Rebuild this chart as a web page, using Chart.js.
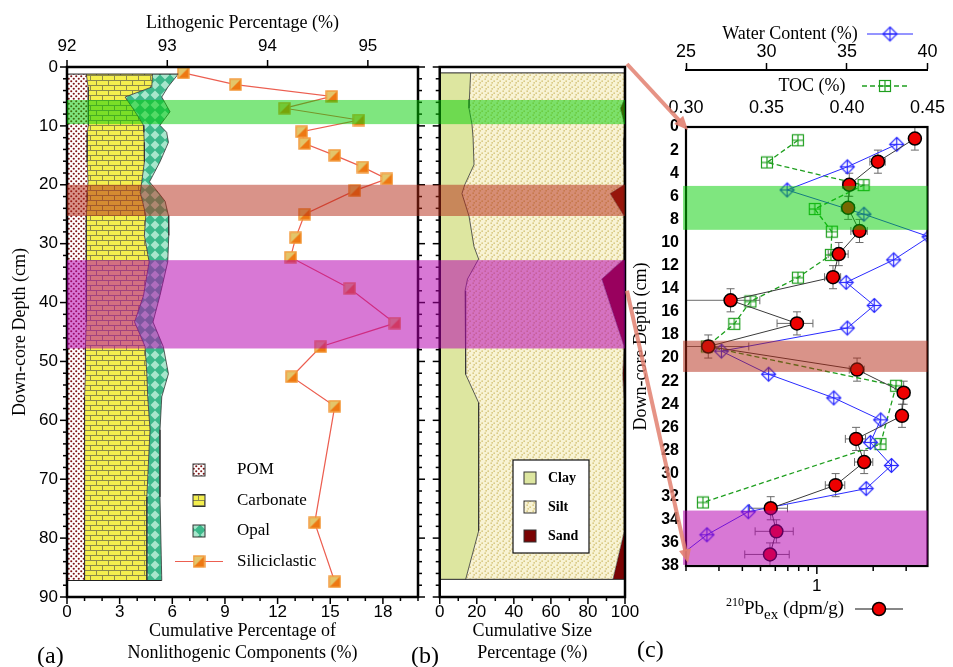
<!DOCTYPE html>
<html>
<head>
<meta charset="utf-8">
<script src="https://cdn.jsdelivr.net/npm/chart.js@4.4.1/dist/chart.umd.min.js"></script>
<style>
  body { margin: 0; background: #fff; width: 953px; height: 667px; overflow: hidden; position: relative; }
  canvas { position: absolute; top: 0; }
  .lab { position: absolute; font: 24px 'Liberation Serif', serif; line-height: 1; }
</style>
</head>
<body>
<canvas id="ca" width="430" height="667" style="left:0"></canvas>
<canvas id="cb" width="215" height="667" style="left:430px"></canvas>
<canvas id="cc" width="323" height="667" style="left:630px"></canvas>
<canvas id="ov" width="953" height="667" style="left:0;pointer-events:none"></canvas>
<div class="lab" style="left:37px;top:643px">(a)</div>
<div class="lab" style="left:411px;top:643px">(b)</div>
<div class="lab" style="left:637px;top:637px">(c)</div>
<script>
// (a) nonlithogenic components, % of sediment
var compDepth = [1.2, 3.4, 5.1, 7.6, 9.9, 11.1, 12.8, 16.1, 19.5, 21.3, 22.8, 25.2, 28.6, 33.1, 38.8, 43.3, 47.5, 52.1, 56.0, 61.6, 73.0, 87.2];
var pom       = [1.10, 1.20, 1.25, 1.20, 1.20, 1.15, 1.15, 1.15, 1.20, 1.15, 1.15, 1.10, 1.10, 1.10, 1.10, 1.10, 1.05, 1.05, 1.00, 1.00, 1.00, 1.00];
var carbonate = [3.77, 3.63, 2.06, 2.68, 3.16, 3.23, 3.25, 3.26, 3.06, 3.02, 3.15, 3.39, 3.31, 3.58, 3.26, 2.75, 3.40, 3.50, 3.60, 3.73, 3.55, 3.55];
var opal      = [1.47, 0.92, 2.09, 1.99, 0.94, 1.30, 1.38, 0.89, 0.44, 1.03, 1.29, 1.29, 1.39, 1.06, 0.94, 1.05, 1.04, 1.23, 0.80, 0.57, 0.75, 0.85];
// (a) lithogenic (siliciclastic) percentage
var siliDepth     = [1, 3, 5, 7, 9, 11, 13, 15, 17, 19, 21, 25, 29, 32.3, 37.6, 43.5, 47.5, 52.6, 57.6, 77.4, 87.4];
var siliciclastic = [93.16, 93.68, 94.64, 94.17, 94.91, 94.34, 94.37, 94.67, 94.95, 95.19, 94.87, 94.37, 94.28, 94.23, 94.82, 95.27, 94.53, 94.24, 94.67, 94.47, 94.67];
// (b) grain size
var gsDepth = [1, 5.5, 7, 9.7, 12, 16.6, 20, 21.5, 25.3, 30.5, 32.6, 36, 38, 47.4, 52.2, 57, 65, 72, 78.8, 87];
var clay    = [16.7, 16.0, 15.8, 17.4, 18.0, 18.5, 13.5, 12.0, 15.8, 18.5, 21.0, 15.0, 13.7, 14.0, 14.0, 21.0, 21.0, 21.0, 21.0, 14.0];
var sand    = [0.3, 0.3, 2.5, 0.3, 0.6, 0.6, 0.5, 8.0, 0.5, 0.5, 0.5, 12.5, 10.4, 0.5, 1.2, 0.5, 0.3, 0.3, 0.5, 6.5];
// (c) 210Pb excess, water content, TOC
var pbDepth = [1, 3, 5, 7, 9, 11, 13, 15, 17, 19, 21, 23, 25, 27, 29, 31, 33, 35, 37];
var pb      = [3.34, 2.12, 1.49, 1.47, 1.69, 1.31, 1.22, 0.346, 0.783, 0.263, 1.64, 2.91, 2.85, 1.62, 1.79, 1.26, 0.567, 0.608, 0.562];
var pbErr   = [0.12, 0.20, 0.12, 0.12, 0.17, 0.16, 0.12, 0.15, 0.17, 0.17, 0.15, 0.12, 0.12, 0.20, 0.20, 0.15, 0.13, 0.14, 0.15];
var pbDepthErr = 1;
var waterDepth = [1.5, 3.45, 5.45, 7.55, 9.5, 11.5, 13.45, 15.45, 17.4, 19.4, 21.4, 23.45, 25.35, 27.3, 29.3, 31.3, 33.3, 35.3, 37.3];
var water      = [38.09, 35.02, 31.28, 36.05, 40.1, 37.9, 34.95, 36.69, 35.02, 27.2, 30.13, 34.18, 37.09, 36.45, 37.76, 36.19, 28.87, 26.3, 24.45];
var tocDepth = [1.15, 3.07, 5.03, 7.1, 9.06, 11.07, 13.04, 15.1, 17.04, 19.0, 22.4, 27.45, 32.5];
var toc      = [0.3695, 0.3503, 0.4103, 0.380, 0.3906, 0.390, 0.3695, 0.340, 0.330, 0.313, 0.4305, 0.4208, 0.3105];
// highlighted layers (cm) and the depths tied by the arrows
var bandsAB = [[5.6, 9.7], [20.0, 25.3], [32.8, 47.8]];
var bandsC  = [[5.1, 8.9], [18.5, 21.2], [33.2, 37.9]];
var bandColors = ['rgba(0,205,0,0.5)', 'rgba(180,40,20,0.5)', 'rgba(182,0,176,0.53)'];
var arrowDepths = [[0, 0], [38, 38]];
// tick labels
var depthTicksA = [0, 10, 20, 30, 40, 50, 60, 70, 80, 90];
var depthTicksC = [0, 2, 4, 6, 8, 10, 12, 14, 16, 18, 20, 22, 24, 26, 28, 30, 32, 34, 36, 38];
var nonLithoTicks = [0, 3, 6, 9, 12, 15, 18];
var lithoTicks = [92, 93, 94, 95];
var sizeTicks = [0, 20, 40, 60, 80, 100];
var tocTicks = [0.30, 0.35, 0.40, 0.45];
var waterTicks = [25, 30, 35, 40];
var pbTicks = [1];
var pbMinorTicks = [0.2, 0.3, 0.4, 0.5, 0.6, 0.7, 0.8, 0.9, 1, 2, 3];

var narrow = "'Liberation Sans Narrow', 'Liberation Sans', sans-serif";
var serif = "'Liberation Serif', serif";
Chart.defaults.color = '#000';
Chart.defaults.font.family = serif;

var carbCum = pom.map(function (v, i) { return v + carbonate[i]; });
var opalCum = carbCum.map(function (v, i) { return v + opal[i]; });
var siltEdge = sand.map(function (v) { return 100 - v; });

function pts(xs, ys) { return xs.map(function (x, i) { return {x: x, y: ys[i]}; }); }
function tickList(arr) { return function (s) { s.ticks = arr.map(function (v) { return {value: v}; }); }; }
function fixW(w) { return function (s) { s.width = w; }; }
function fixH(h) { return function (s) { s.height = h; }; }
function seg(ctx, x0, y0, x1, y1) { ctx.beginPath(); ctx.moveTo(x0, y0); ctx.lineTo(x1, y1); ctx.stroke(); }
function tile(w, h, draw) {
  var c = document.createElement('canvas'); c.width = w; c.height = h;
  draw(c.getContext('2d'));
  return c;
}
function pattern(c) { return document.createElement('canvas').getContext('2d').createPattern(c, 'repeat'); }

var pomPattern = pattern(tile(5, 5, function (g) {
  g.fillStyle = '#fff'; g.fillRect(0, 0, 5, 5);
  g.fillStyle = '#7e1515';
  g.beginPath(); g.arc(1.25, 1.25, 1.05, 0, 7); g.fill();
  g.beginPath(); g.arc(3.75, 3.75, 1.05, 0, 7); g.fill();
}));
var carbPattern = pattern(tile(12, 10, function (g) {
  g.fillStyle = '#f4ef4e'; g.fillRect(0, 0, 12, 10);
  g.strokeStyle = '#8c8a4a'; g.lineWidth = 1;
  seg(g, 0, 0.5, 12, 0.5); seg(g, 0, 5.5, 12, 5.5);
  seg(g, 0.5, 0, 0.5, 5); seg(g, 6.5, 5, 6.5, 10);
}));
var opalPattern = pattern(tile(10, 10, function (g) {
  g.fillStyle = '#3cb88a'; g.fillRect(0, 0, 10, 10);
  g.fillStyle = '#a8e6cc';
  g.beginPath(); g.moveTo(5, 0.5); g.lineTo(9.5, 5); g.lineTo(5, 9.5); g.lineTo(0.5, 5); g.closePath(); g.fill();
}));
var siltPattern = pattern(tile(6, 6, function (g) {
  g.fillStyle = '#f8f3d4'; g.fillRect(0, 0, 6, 6);
  g.fillStyle = '#c9b45c';
  g.fillRect(0.5, 0.5, 1.3, 1.3); g.fillRect(3.5, 2.5, 1.3, 1.3); g.fillRect(1.5, 4.2, 1.3, 1.3);
}));
var clayColor = '#dde6a0';
var sandColor = '#7a0303';
var siliColor = '#ec5e50';
var waterColor = '#2a2aff';
var tocColor = '#1f9f1f';

var siliMarker = tile(13, 13, function (g) {
  g.fillStyle = '#e3c56a'; g.fillRect(1, 1, 11, 11);
  g.fillStyle = '#ee7812';
  g.beginPath(); g.moveTo(12, 1); g.lineTo(12, 12); g.lineTo(1, 12); g.closePath(); g.fill();
  g.strokeStyle = '#f39a3c'; g.lineWidth = 1.4; g.strokeRect(1, 1, 11, 11);
});
var waterMarker = tile(17, 17, function (g) {
  g.strokeStyle = waterColor; g.lineWidth = 1.2;
  g.beginPath(); g.moveTo(8.5, 1.5); g.lineTo(15.5, 8.5); g.lineTo(8.5, 15.5); g.lineTo(1.5, 8.5); g.closePath(); g.stroke();
  seg(g, 8.5, 1.5, 8.5, 15.5); seg(g, 1.5, 8.5, 15.5, 8.5);
});
var tocMarker = tile(14, 14, function (g) {
  g.strokeStyle = tocColor; g.lineWidth = 1.2;
  g.strokeRect(1.5, 1.5, 11, 11);
  seg(g, 7, 1.5, 7, 12.5); seg(g, 1.5, 7, 12.5, 7);
});

function drawBands(chart, bands, x0, x1) {
  var ctx = chart.ctx, y = chart.scales.y;
  ctx.save();
  bands.forEach(function (b, i) {
    var t = y.getPixelForValue(b[0]), btm = y.getPixelForValue(b[1]);
    ctx.fillStyle = bandColors[i];
    ctx.fillRect(x0, t, x1 - x0, btm - t);
  });
  ctx.restore();
}

var panelA = {
  id: 'panelA',
  afterDatasetsDraw: function (chart) {
    var ctx = chart.ctx, a = chart.chartArea, s = chart.scales;
    ctx.save();
    ctx.strokeStyle = '#222'; ctx.lineWidth = 1;
    [0, compDepth.length - 1].forEach(function (i) {
      var y = s.y.getPixelForValue(compDepth[i]);
      seg(ctx, s.x.getPixelForValue(0), y, s.x.getPixelForValue(opalCum[i]), y);
    });
    ctx.strokeStyle = '#000'; ctx.lineWidth = 1.5;
    for (var d = 0; d <= 90; d += 2) {
      var y = s.y.getPixelForValue(d), len = d % 10 === 0 ? 7 : 4;
      seg(ctx, a.left, y, a.left - len, y);
      seg(ctx, a.right, y, a.right + len, y);
    }
    for (var v = 0; v <= 20; v++) {
      var x = s.x.getPixelForValue(v);
      seg(ctx, x, a.bottom, x, a.bottom + (v % 3 === 0 ? 7 : 4));
    }
    lithoTicks.forEach(function (t) {
      var x = s.xTop.getPixelForValue(t);
      seg(ctx, x, a.top, x, a.top - 7);
    });
    ctx.lineWidth = 2.5;
    ctx.strokeRect(a.left, a.top, a.right - a.left, a.bottom - a.top);
    ctx.restore();
  },
  afterDraw: function (chart) {
    var ctx = chart.ctx, a = chart.chartArea;
    ctx.save();
    ctx.font = '17px ' + serif; ctx.textBaseline = 'middle';
    var rows = [[pomPattern, 'POM'], [carbPattern, 'Carbonate'], [opalPattern, 'Opal']];
    rows.forEach(function (r, i) {
      var y = 470 + i * 30.5;
      ctx.fillStyle = r[0]; ctx.fillRect(193, y - 6, 12, 12);
      ctx.strokeStyle = '#333'; ctx.lineWidth = 1; ctx.strokeRect(193, y - 6, 12, 12);
      ctx.fillStyle = '#000'; ctx.fillText(r[1], 237, y);
    });
    var y = 470 + 3 * 30.5;
    ctx.strokeStyle = siliColor; ctx.lineWidth = 1.2; seg(ctx, 175, y, 223, y);
    ctx.drawImage(siliMarker, 192.5, y - 6.5);
    ctx.fillStyle = '#000'; ctx.fillText('Siliciclastic', 237, y);
    ctx.restore();
    drawBands(chart, bandsAB, a.left, chart.width);
  }
};

var panelB = {
  id: 'panelB',
  afterDatasetsDraw: function (chart) {
    var ctx = chart.ctx, a = chart.chartArea, s = chart.scales;
    ctx.save();
    ctx.strokeStyle = '#222'; ctx.lineWidth = 1;
    [0, gsDepth.length - 1].forEach(function (i) {
      var y = s.y.getPixelForValue(gsDepth[i]);
      seg(ctx, a.left, y, a.right, y);
    });
    ctx.strokeStyle = '#000'; ctx.lineWidth = 1.5;
    for (var d = 0; d <= 90; d += 2) {
      var y = s.y.getPixelForValue(d);
      seg(ctx, a.left, y, a.left - (d % 10 === 0 ? 7 : 4), y);
    }
    for (var v = 0; v <= 100; v += 10) {
      var x = s.x.getPixelForValue(v);
      seg(ctx, x, a.bottom, x, a.bottom + (v % 20 === 0 ? 7 : 4));
    }
    ctx.lineWidth = 2.5;
    ctx.strokeRect(a.left, a.top, a.right - a.left, a.bottom - a.top);
    ctx.restore();
  },
  afterDraw: function (chart) {
    var ctx = chart.ctx, a = chart.chartArea;
    ctx.save();
    ctx.fillStyle = '#fff'; ctx.fillRect(83, 460, 76, 93);
    ctx.strokeStyle = '#111'; ctx.lineWidth = 1.2; ctx.strokeRect(83, 460, 76, 93);
    ctx.font = 'bold 14px ' + serif; ctx.textBaseline = 'middle';
    [[clayColor, 'Clay'], [siltPattern, 'Silt'], [sandColor, 'Sand']].forEach(function (r, i) {
      var y = 478 + i * 29;
      ctx.fillStyle = r[0]; ctx.fillRect(94, y - 6, 12, 12);
      ctx.strokeStyle = '#333'; ctx.lineWidth = 1; ctx.strokeRect(94, y - 6, 12, 12);
      ctx.fillStyle = '#000'; ctx.fillText(r[1], 118, y);
    });
    ctx.restore();
    drawBands(chart, bandsAB, 0, a.right);
  }
};

var panelC = {
  id: 'panelC',
  beforeDatasetsDraw: function (chart) {
    var ctx = chart.ctx, a = chart.chartArea, x = chart.scales.x, y = chart.scales.y;
    ctx.save();
    ctx.beginPath(); ctx.rect(a.left, a.top, a.right - a.left, a.bottom - a.top); ctx.clip();
    ctx.strokeStyle = '#6a6a6a'; ctx.lineWidth = 1;
    pb.forEach(function (v, i) {
      var px = x.getPixelForValue(v), py = y.getPixelForValue(pbDepth[i]);
      var x0 = x.getPixelForValue(Math.max(v - pbErr[i], 0.01)), x1 = x.getPixelForValue(v + pbErr[i]);
      var y0 = y.getPixelForValue(pbDepth[i] - pbDepthErr), y1 = y.getPixelForValue(pbDepth[i] + pbDepthErr);
      seg(ctx, x0, py, x1, py); seg(ctx, x0, py - 4, x0, py + 4); seg(ctx, x1, py - 4, x1, py + 4);
      seg(ctx, px, y0, px, y1); seg(ctx, px - 4, y0, px + 4, y0); seg(ctx, px - 4, y1, px + 4, y1);
    });
    ctx.restore();
  },
  afterDatasetsDraw: function (chart) {
    var ctx = chart.ctx, a = chart.chartArea, x = chart.scales.x;
    ctx.save();
    ctx.strokeStyle = '#000'; ctx.lineWidth = 1.5;
    pbMinorTicks.forEach(function (t) {
      var px = x.getPixelForValue(t);
      seg(ctx, px, a.bottom, px, a.bottom + (t === 1 ? 8 : 5));
    });
    ctx.lineWidth = 2.2;
    ctx.strokeRect(a.left, a.top, a.right - a.left, a.bottom - a.top);
    ctx.restore();
    drawBands(chart, bandsC, a.left - 3, a.right);
  },
  afterDraw: function (chart) {
    var ctx = chart.ctx, a = chart.chartArea, L = a.left;
    ctx.save();
    ctx.fillStyle = '#000'; ctx.textBaseline = 'middle'; ctx.textAlign = 'center';
    ctx.font = '18px ' + serif;
    ctx.fillText('Water Content (%)', L + 104, 34);
    ctx.strokeStyle = waterColor; ctx.lineWidth = 1; seg(ctx, L + 181, 34, L + 227, 34);
    ctx.drawImage(waterMarker, L + 204 - 8.5, 34 - 8.5);
    ctx.fillText('TOC (%)', L + 126, 86);
    ctx.strokeStyle = tocColor; ctx.lineWidth = 1.4; ctx.setLineDash([5, 3]);
    seg(ctx, L + 176, 86, L + 222, 86); ctx.setLineDash([]);
    ctx.drawImage(tocMarker, L + 199 - 7, 86 - 7);
    // 210Pb_ex (dpm/g)
    ctx.textAlign = 'left'; ctx.textBaseline = 'alphabetic';
    var px = L + 40, base = 614;
    ctx.font = '12px ' + serif; ctx.fillText('210', px, base - 8); px += ctx.measureText('210').width;
    ctx.font = '19px ' + serif; ctx.fillText('Pb', px, base); px += ctx.measureText('Pb').width;
    ctx.font = '15px ' + serif; ctx.fillText('ex', px, base + 5); px += ctx.measureText('ex').width;
    ctx.font = '19px ' + serif; ctx.fillText(' (dpm/g)', px, base);
    ctx.strokeStyle = '#111'; ctx.lineWidth = 1.2; seg(ctx, L + 169, 609, L + 217, 609);
    ctx.fillStyle = '#ee0000'; ctx.strokeStyle = '#000'; ctx.lineWidth = 1.5;
    ctx.beginPath(); ctx.arc(L + 193, 609, 6.5, 0, 7); ctx.fill(); ctx.stroke();
    ctx.restore();
  }
};

var noGrid = {display: false, drawTicks: false};
var noBorder = {display: false};
var tickFont = {family: narrow, size: 17};
var titleFont = {family: serif, size: 18};

var chartA = new Chart(document.getElementById('ca'), {
  type: 'line',
  data: {
    datasets: [
      {label: 'Siliciclastic', data: pts(siliciclastic, siliDepth), xAxisID: 'xTop', yAxisID: 'y',
       borderColor: siliColor, borderWidth: 1.2, pointStyle: siliMarker, pointRadius: 6, fill: false},
      {label: 'POM', data: pts(pom, compDepth), xAxisID: 'x', yAxisID: 'y',
       borderColor: '#333', borderWidth: 0.8, pointRadius: 0, backgroundColor: pomPattern, fill: 'origin'},
      {label: 'Carbonate', data: pts(carbCum, compDepth), xAxisID: 'x', yAxisID: 'y',
       borderColor: '#333', borderWidth: 0.8, pointRadius: 0, backgroundColor: carbPattern, fill: '-1'},
      {label: 'Opal', data: pts(opalCum, compDepth), xAxisID: 'x', yAxisID: 'y',
       borderColor: '#333', borderWidth: 0.8, pointRadius: 0, backgroundColor: opalPattern, fill: '-1'}
    ]
  },
  options: {
    responsive: false, animation: false, indexAxis: 'y',
    plugins: {legend: {display: false}, tooltip: {enabled: false}},
    scales: {
      y: {type: 'linear', position: 'left', reverse: true, min: 0, max: 90,
          afterBuildTicks: tickList(depthTicksA),
          ticks: {font: tickFont, padding: 9, autoSkip: false},
          grid: noGrid, border: noBorder,
          title: {display: true, text: 'Down-core Depth (cm)', font: titleFont, padding: {top: 9, bottom: 0}},
          afterFit: fixW(67)},
      yR: {type: 'linear', position: 'right', reverse: true, min: 0, max: 90,
           ticks: {display: false}, grid: noGrid, border: noBorder, afterFit: fixW(12)},
      x: {type: 'linear', position: 'bottom', min: 0, max: 20,
          afterBuildTicks: tickList(nonLithoTicks),
          ticks: {font: tickFont, padding: 5, autoSkip: false, maxRotation: 0},
          grid: noGrid, border: noBorder,
          title: {display: true, text: ['Cumulative Percentage of', 'Nonlithogenic Components (%)'], font: titleFont, padding: {top: 0, bottom: 3}},
          afterFit: fixH(70)},
      xTop: {type: 'linear', position: 'top', min: 92, max: 95.5,
             afterBuildTicks: tickList(lithoTicks),
             ticks: {font: tickFont, padding: 10, autoSkip: false, maxRotation: 0},
             grid: noGrid, border: noBorder,
             title: {display: true, text: 'Lithogenic Percentage (%)', font: titleFont, padding: {top: 12, bottom: 0}},
             afterFit: fixH(67)}
    }
  },
  plugins: [panelA]
});

var chartB = new Chart(document.getElementById('cb'), {
  type: 'line',
  data: {
    datasets: [
      {label: 'Clay', data: pts(clay, gsDepth), borderColor: '#333', borderWidth: 0.8, pointRadius: 0,
       backgroundColor: clayColor, fill: 'origin'},
      {label: 'Silt', data: pts(siltEdge, gsDepth), borderColor: '#333', borderWidth: 0.6, pointRadius: 0,
       backgroundColor: siltPattern, fill: '-1'},
      {label: 'Sand', data: pts(siltEdge, gsDepth), borderWidth: 0, pointRadius: 0,
       backgroundColor: sandColor, fill: {target: {value: 100}}}
    ]
  },
  options: {
    responsive: false, animation: false, indexAxis: 'y',
    layout: {padding: {top: 67, right: 20}},
    plugins: {legend: {display: false}, tooltip: {enabled: false}},
    scales: {
      y: {type: 'linear', position: 'left', reverse: true, min: 0, max: 90,
          ticks: {display: false}, grid: noGrid, border: noBorder, afterFit: fixW(6)},
      x: {type: 'linear', position: 'bottom', min: 0, max: 100,
          afterBuildTicks: tickList(sizeTicks),
          ticks: {font: tickFont, padding: 5, autoSkip: false, maxRotation: 0},
          grid: noGrid, border: noBorder,
          title: {display: true, text: ['Cumulative Size', 'Percentage (%)'], font: titleFont, padding: {top: 0, bottom: 3}},
          afterFit: fixH(70)}
    }
  },
  plugins: [panelB]
});

var chartC = new Chart(document.getElementById('cc'), {
  type: 'line',
  data: {
    datasets: [
      {label: '210Pbex', data: pts(pb, pbDepth), xAxisID: 'x', yAxisID: 'y',
       borderColor: '#3a3a3a', borderWidth: 1, pointStyle: 'circle', pointRadius: 6.5,
       pointBackgroundColor: '#ee0000', pointBorderColor: '#000', pointBorderWidth: 1.5, fill: false},
      {label: 'Water Content', data: pts(water, waterDepth), xAxisID: 'xWater', yAxisID: 'y',
       borderColor: waterColor, borderWidth: 1, pointStyle: waterMarker, pointRadius: 7, fill: false},
      {label: 'TOC', data: pts(toc, tocDepth), xAxisID: 'xToc', yAxisID: 'y',
       borderColor: tocColor, borderWidth: 1.3, borderDash: [5, 3], pointStyle: tocMarker, pointRadius: 6, fill: false}
    ]
  },
  options: {
    responsive: false, animation: false, indexAxis: 'y',
    layout: {padding: {right: 17}},
    plugins: {legend: {display: false}, tooltip: {enabled: false}},
    scales: {
      y: {type: 'linear', position: 'left', reverse: true, min: 0, max: 38,
          afterBuildTicks: tickList(depthTicksC),
          ticks: {font: {family: narrow, size: 16, weight: 'bold'}, padding: 7, autoSkip: false},
          grid: noGrid, border: noBorder,
          title: {display: true, text: 'Down-core Depth (cm)', font: titleFont, padding: {top: 0, bottom: 0}},
          afterFit: fixW(56)},
      x: {type: 'logarithmic', position: 'bottom', min: 0.2, max: 3.9,
          afterBuildTicks: tickList(pbTicks),
          ticks: {font: tickFont, padding: 10, autoSkip: false, maxRotation: 0, callback: function (v) { return String(v); }},
          grid: noGrid, border: noBorder, afterFit: fixH(101)},
      xToc: {type: 'linear', position: 'top', min: 0.30, max: 0.45, weight: 1,
             afterBuildTicks: tickList(tocTicks),
             ticks: {font: {family: narrow, size: 18}, padding: 8, autoSkip: false, maxRotation: 0,
                     callback: function (v) { return v.toFixed(2); }},
             grid: noGrid, border: noBorder, afterFit: fixH(57)},
      xWater: {type: 'linear', position: 'top', min: 25, max: 40, weight: 2,
               afterBuildTicks: tickList(waterTicks),
               ticks: {font: {family: narrow, size: 18}, padding: 0, autoSkip: false, maxRotation: 0},
               grid: {display: true, drawOnChartArea: false, drawTicks: true, tickLength: 7, tickColor: '#000', tickWidth: 1.5},
               border: {display: true, color: '#000', width: 2},
               afterFit: fixH(70)}
    }
  },
  plugins: [panelC]
});

// arrows tying the top 38 cm of (a)/(b) to (c)
var ov = document.getElementById('ov').getContext('2d');
ov.strokeStyle = 'rgba(226,128,112,0.85)';
ov.fillStyle = 'rgba(226,128,112,0.9)';
ov.lineWidth = 4;
arrowDepths.forEach(function (d) {
  var x0 = 430 + chartB.chartArea.right + 2, y0 = chartB.scales.y.getPixelForValue(d[0]) - (d[0] === 0 ? 3 : 0);
  var x1 = 630 + chartC.chartArea.left + 2, y1 = chartC.scales.y.getPixelForValue(d[1]) + (d[1] === 0 ? 3 : -3);
  var ang = Math.atan2(y1 - y0, x1 - x0), head = 15;
  seg(ov, x0, y0, x1 - Math.cos(ang) * head * 0.8, y1 - Math.sin(ang) * head * 0.8);
  ov.beginPath();
  ov.moveTo(x1, y1);
  ov.lineTo(x1 - head * Math.cos(ang - 0.42), y1 - head * Math.sin(ang - 0.42));
  ov.lineTo(x1 - head * Math.cos(ang + 0.42), y1 - head * Math.sin(ang + 0.42));
  ov.closePath(); ov.fill();
});
</script>
</body>
</html>
